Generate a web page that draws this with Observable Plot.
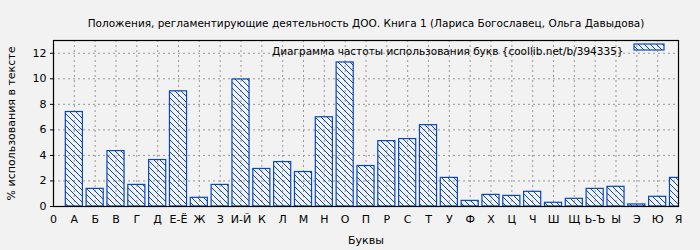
<!DOCTYPE html>
<html>
<head>
<meta charset="utf-8">
<script src="https://cdn.jsdelivr.net/npm/d3@7"></script>
<script src="https://cdn.jsdelivr.net/npm/@observablehq/plot@0.6"></script>
<style>
  html, body { margin: 0; padding: 0; background: #f2f2f2; }
  #chart { width: 700px; height: 250px; }
</style>
</head>
<body>
<div id="chart"></div>
<script>
const tickLabels = ["0","А","Б","В","Г","Д","Е-Ё","Ж","З","И-Й","К","Л","М","Н","О","П","Р","С","Т","У","Ф","Х","Ц","Ч","Ш","Щ","Ь-Ъ","Ы","Э","Ю","Я"];
const letters = tickLabels.slice(1);
const values = [7.4,1.38,4.34,1.69,3.64,9.02,0.68,1.69,9.95,2.94,3.48,2.70,6.99,11.28,3.17,5.12,5.28,6.37,2.24,0.44,0.91,0.83,1.15,0.29,0.60,1.38,1.54,0.16,0.76,2.24];
const yTicks = [0,2,4,6,8,10,12];
const title = "Положения, регламентирующие деятельность ДОО. Книга 1 (Лариса Богославец, Ольга Давыдова)";
const legendText = "Диаграмма частоты использования букв {coollib.net/b/394335}";
const xLabel = "Буквы";
const yLabel = "% использования в тексте";

const data = letters.map((l, i) => ({letter: l, pos: i + 1, value: values[i]}));
const blue = "#0a48b8";

const plot = Plot.plot({
  width: 700,
  height: 250,
  marginLeft: 53,
  marginRight: 22,
  marginTop: 40,
  marginBottom: 44,
  style: {background: "#f2f2f2", fontFamily: "DejaVu Sans", fontSize: "11px", color: "black"},
  x: {domain: [0, 30]},
  y: {domain: [0, 13]},
  marks: [
    Plot.gridX(d3.range(0, 31), {stroke: "#999", strokeOpacity: 1, strokeDasharray: "2,3"}),
    Plot.gridY(yTicks, {stroke: "#999", strokeOpacity: 1, strokeDasharray: "2,3"}),
    Plot.rectY(data, {
      x1: d => d.pos - 0.41,
      x2: d => d.pos + 0.41,
      y1: 0,
      y2: "value",
      fill: "url(#hatch)",
      stroke: blue,
      strokeWidth: 1.2,
      clip: true
    }),
    Plot.axisX(d3.range(0, 31), {
      tickFormat: i => tickLabels[i],
      tickSize: 0,
      tickPadding: 9,
      fontSize: 11,
      label: xLabel,
      labelAnchor: "center",
      labelOffset: 37,
      labelArrow: "none"
    }),
    Plot.axisY(yTicks, {
      tickSize: 3,
      tickPadding: 4,
      fontSize: 11,
      label: yLabel,
      labelAnchor: "center",
      labelOffset: 46,
      labelArrow: "none"
    }),
    Plot.frame({stroke: "black", strokeWidth: 1.2}),
    Plot.text([title], {frameAnchor: "top", dy: -21, fontSize: 10.5, fill: "black"}),
    Plot.text([legendText], {frameAnchor: "top-right", dx: -55, dy: 7, fontSize: 10.5, fill: "black", textAnchor: "end"})
  ]
});

const svg = d3.select(plot);
const defs = svg.insert("defs", ":first-child");
const pat = defs.append("pattern")
  .attr("id", "hatch")
  .attr("patternUnits", "userSpaceOnUse")
  .attr("width", 6).attr("height", 6);
pat.append("path")
  .attr("d", "M0,0L6,6M-1,5L1,7M5,-1L7,1")
  .attr("stroke", blue)
  .attr("stroke-width", 1)
  .attr("fill", "none");

// legend swatch
svg.append("rect")
  .attr("x", 634).attr("y", 44)
  .attr("width", 30).attr("height", 6)
  .attr("fill", "url(#hatch)")
  .attr("stroke", blue)
  .attr("stroke-width", 1.2);

document.getElementById("chart").appendChild(plot);
</script>
</body>
</html>
